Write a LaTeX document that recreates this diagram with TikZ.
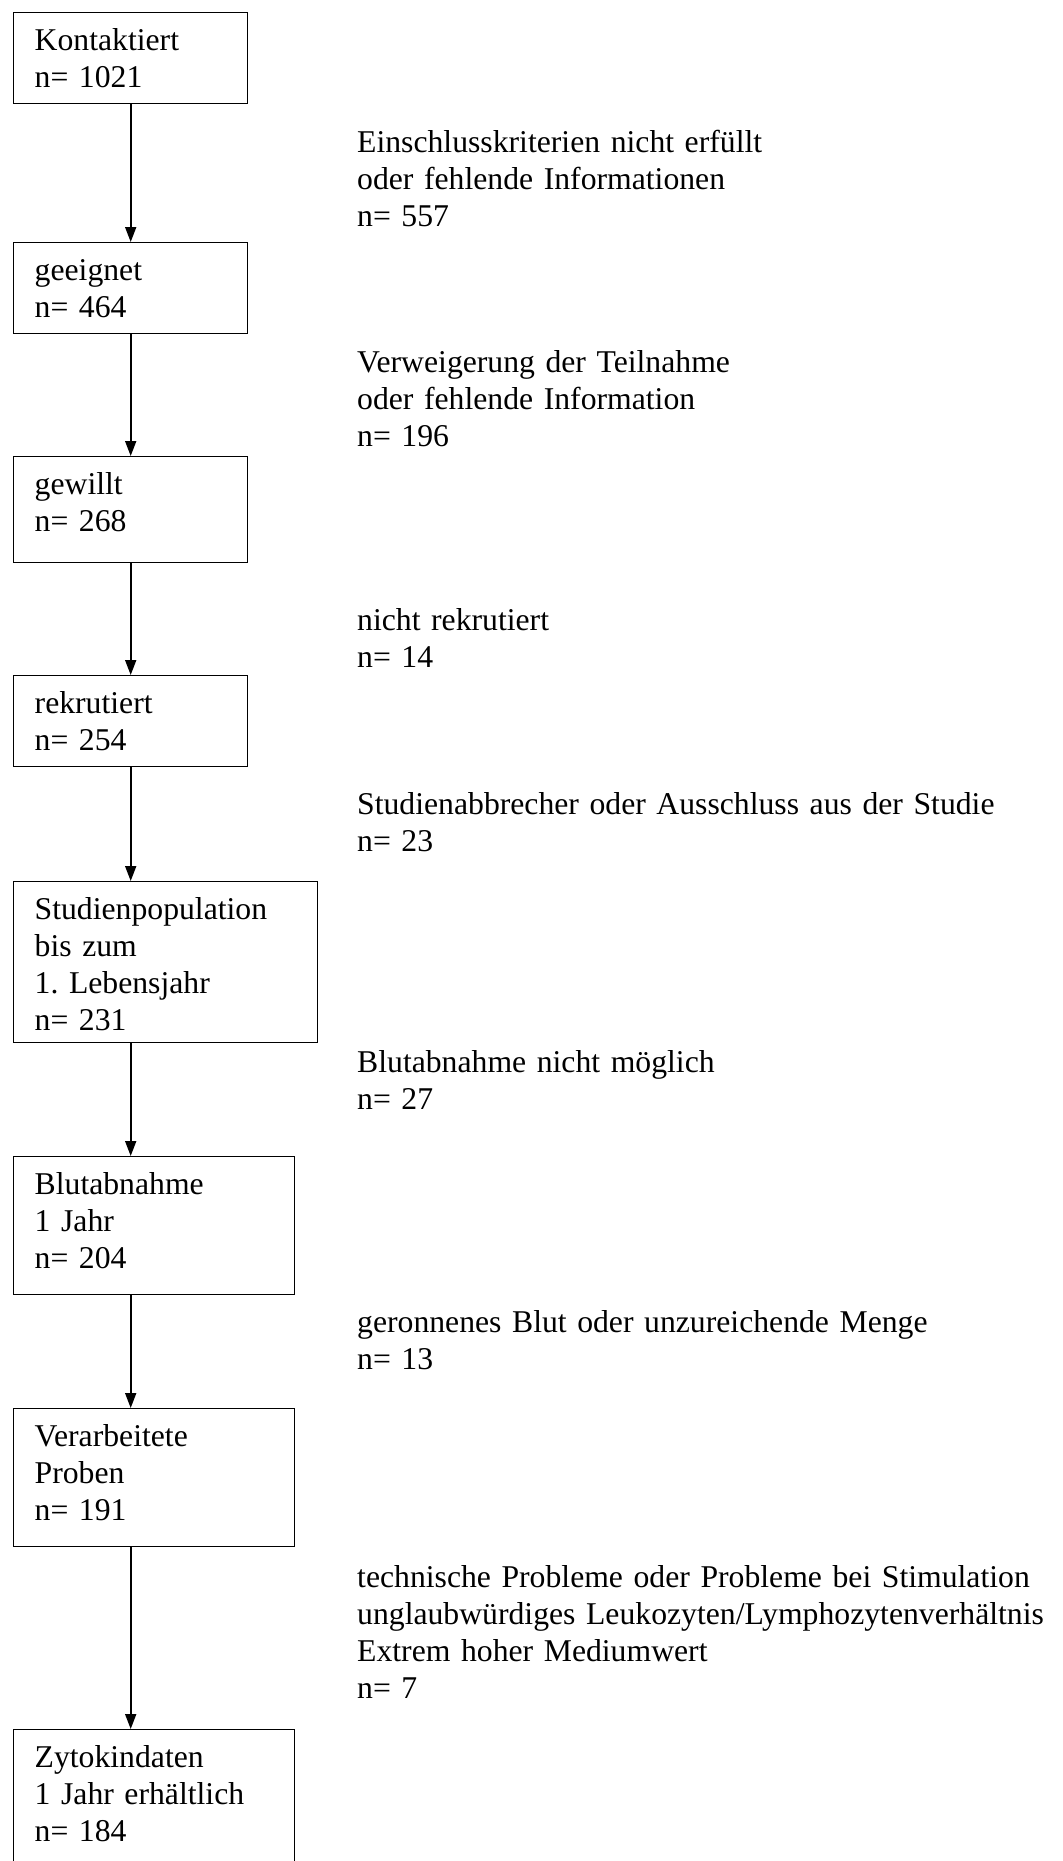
\documentclass[tikz,border=0pt]{standalone}
\usepackage{fontspec}
\setmainfont{Liberation Serif}
\usetikzlibrary{arrows.meta}
\frenchspacing

\begin{document}
\begin{tikzpicture}[x=1pt,y=-1pt,
  every node/.style={font=\fontsize{31.7}{37}\selectfont, inner sep=0pt},
  stage/.style={draw, line width=1.4pt, anchor=north west, align=left, inner xsep=21pt, text height=38pt},
  narrow/.style={text width=192pt},
  wide/.style={text width=262pt},
  mid/.style={text width=239pt},
  reason/.style={anchor=base west, align=left, text width=800pt},
  flow/.style={line width=1.8pt, -{Triangle[width=11pt,length=15pt]}}]

\useasboundingbox (0,0) rectangle (1063,1861) ;
\clip (0,0) rectangle (1063,1861) ;

\node [stage, narrow, text depth=53pt] (kontakt) at (13,12) {Kontaktiert\\n= 1021} ;
\node [stage, narrow, text depth=53pt] (geeignet) at (13,242) {geeignet\\n= 464} ;
\node [stage, narrow, text depth=68pt] (gewillt) at (13,456) {gewillt\\n= 268} ;
\node [stage, narrow, text depth=53pt] (rekrutiert) at (13,675) {rekrutiert\\n= 254} ;
\node [stage, wide, text depth=123pt] (studpop) at (13,881) {Studienpopulation\\bis zum\\1. Lebensjahr\\n= 231} ;
\node [stage, mid, text depth=100pt] (blut) at (13,1156) {Blutabnahme\\1 Jahr\\n= 204} ;
\node [stage, mid, text depth=100pt] (proben) at (13,1408) {Verarbeitete\\Proben\\n= 191} ;
\node [stage, mid, text depth=133pt] (zyto) at (13,1729) {Zytokindaten\\1 Jahr erhältlich\\n= 184} ;

\node [reason] (grund1) at (357,152) {Einschlusskriterien nicht erfüllt\\oder fehlende Informationen\\n= 557} ;
\node [reason] (grund2) at (357,372) {Verweigerung der Teilnahme\\oder fehlende Information\\n= 196} ;
\node [reason] (grund3) at (357,630) {nicht rekrutiert\\n= 14} ;
\node [reason] (grund4) at (357,814) {Studienabbrecher oder Ausschluss aus der Studie\\n= 23} ;
\node [reason] (grund5) at (357,1072) {Blutabnahme nicht möglich\\n= 27} ;
\node [reason] (grund6) at (357,1332) {geronnenes Blut oder unzureichende Menge\\n= 13} ;
\node [reason] (grund7) at (357,1587) {technische Probleme oder Probleme bei Stimulation\\unglaubwürdiges Leukozyten/Lymphozytenverhältnis\\Extrem hoher Mediumwert\\n= 7} ;

\draw [flow] (kontakt.south) -- (geeignet.north) ;
\draw [flow] (geeignet.south) -- (gewillt.north) ;
\draw [flow] (gewillt.south) -- (rekrutiert.north) ;
\draw [flow] (rekrutiert.south) -- (rekrutiert.south |- studpop.north) ;
\draw [flow] (kontakt.south |- studpop.south) -- (kontakt.south |- blut.north) ;
\draw [flow] (kontakt.south |- blut.south) -- (kontakt.south |- proben.north) ;
\draw [flow] (kontakt.south |- proben.south) -- (kontakt.south |- zyto.north) ;

\end{tikzpicture}
\end{document}
